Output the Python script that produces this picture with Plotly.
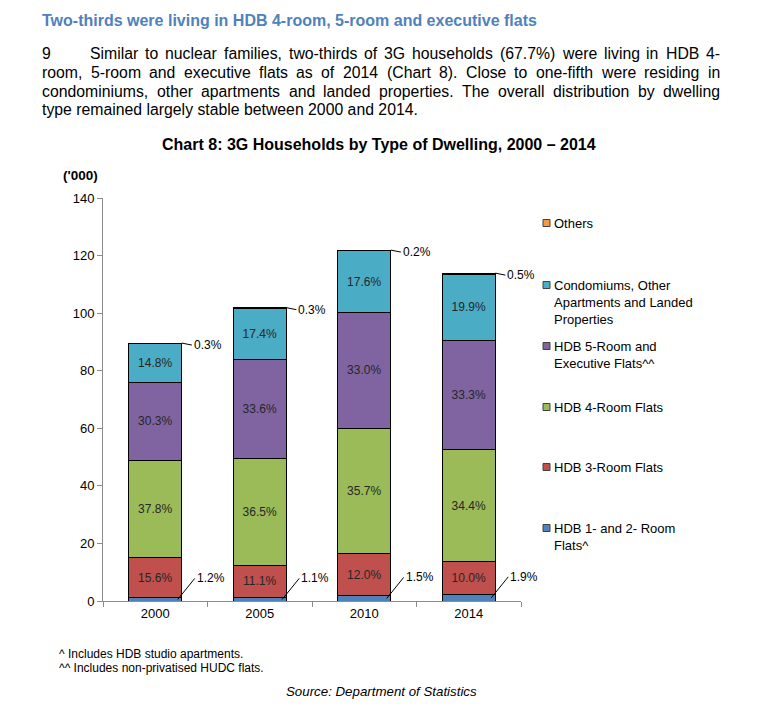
import plotly.graph_objects as go

# ---------------- data ----------------
years = ["2000", "2005", "2010", "2014"]
totals = [89.6, 101.9, 121.9, 113.9]

pct_hdb12 = [1.2, 1.1, 1.5, 1.9]
pct_hdb3 = [15.6, 11.1, 12.0, 10.0]
pct_hdb4 = [37.8, 36.5, 35.7, 34.4]
pct_hdb5 = [30.3, 33.6, 33.0, 33.3]
pct_condo = [14.8, 17.4, 17.6, 19.9]
pct_others = [0.3, 0.3, 0.2, 0.5]

series_names = [
    "HDB 1- and 2- Room Flats^",
    "HDB 3-Room Flats",
    "HDB 4-Room Flats",
    "HDB 5-Room and Executive Flats^^",
    "Condomiums, Other Apartments and Landed Properties",
    "Others",
]
series_pcts = [pct_hdb12, pct_hdb3, pct_hdb4, pct_hdb5, pct_condo, pct_others]
series_colors = ["#4F81BD", "#C0504D", "#9BBB59", "#8064A2", "#4BACC6", "#F79646"]
legend_labels = [
    "HDB 1- and 2- Room<br>Flats^",
    "HDB 3-Room Flats",
    "HDB 4-Room Flats",
    "HDB 5-Room and<br>Executive Flats^^",
    "Condomiums, Other<br>Apartments and Landed<br>Properties",
    "Others",
]

heading = "Two-thirds were living in HDB 4-room, 5-room and executive flats"
para_num = "9"
para_lines = [
    "Similar to nuclear families, two-thirds of 3G households (67.7%) were living in HDB 4-",
    "room, 5-room and executive flats as of 2014 (Chart 8). Close to one-fifth were residing in",
    "condominiums, other apartments and landed properties. The overall distribution by dwelling",
    "type remained largely stable between 2000 and 2014.",
]
chart_title = "Chart 8: 3G Households by Type of Dwelling, 2000 \u2013 2014"
unit_label = "('000)"
footnotes = ["^ Includes HDB studio apartments.", "^^ Includes non-privatised HUDC flats."]
source = "Source: Department of Statistics"

# ---------------- layout helpers ----------------
W, H = 761, 707
PL, PR, PT, PB = 103, 521, 198, 601  # plot area in pixels
FONT = "Liberation Sans, Arial, sans-serif"
BW = 0.51


def px(x):
    return (x - PL) / (PR - PL)


def py(y):
    return (PB - y) / (PB - PT)


# Arial / Liberation Sans advance widths (1/1000 em)
CW = {' ': 278, 'a': 556, 'b': 556, 'c': 500, 'd': 556, 'e': 556, 'f': 278, 'g': 556,
      'h': 556, 'i': 222, 'j': 222, 'k': 500, 'l': 222, 'm': 833, 'n': 556, 'o': 556,
      'p': 556, 'q': 556, 'r': 333, 's': 500, 't': 278, 'u': 556, 'v': 500, 'w': 722,
      'x': 500, 'y': 500, 'z': 500, '(': 333, ')': 333, '%': 889, '.': 278, ',': 278,
      '-': 333, 'A': 667, 'B': 667, 'C': 722, 'D': 722, 'E': 667, 'F': 611, 'G': 778,
      'H': 722, 'I': 278, 'J': 500, 'K': 667, 'L': 556, 'M': 833, 'N': 722, 'O': 778,
      'P': 667, 'Q': 778, 'R': 722, 'S': 667, 'T': 611, 'U': 722, 'V': 667, 'W': 944}


def tw(s, size):
    return sum(CW.get(c, 556) for c in s) / 1000.0 * size


fig = go.Figure()

for name, pcts, col in zip(series_names, series_pcts, series_colors):
    vals = [t * p / 100.0 for t, p in zip(totals, pcts)]
    small = pcts is pct_hdb12 or pcts is pct_others
    fig.add_trace(go.Bar(
        x=years, y=vals, name=name, width=BW,
        marker=dict(color=col, line=dict(color="#000000", width=1)),
        text=None if small else ["%.1f%%" % p for p in pcts],
        textposition="inside", insidetextanchor="middle", textangle=0,
        textfont=dict(family=FONT, size=12, color="#262626"),
        showlegend=False, hoverinfo="skip",
    ))

ann = []
# totals above bars
for y, t in zip(years, totals):
    ann.append(dict(x=y, y=t, xref="x", yref="y", text="<b>%.1f</b>" % t, showarrow=False,
                    yanchor="middle", yshift=16, font=dict(family=FONT, size=13, color="#000")))
# small-segment labels with leader lines
for i, (t, p) in enumerate(zip(totals, pct_hdb12)):
    v = t * p / 100.0
    ann.append(dict(x=i + BW / 2 - 0.04, y=v / 2, xref="x", yref="y", text="%.1f%%" % p,
                    showarrow=True, arrowhead=0, arrowwidth=1, arrowcolor="#000",
                    ax=17, ay=-21, xanchor="left", yanchor="middle", borderpad=1,
                    font=dict(family=FONT, size=12, color="#000")))
for i, (t, p) in enumerate(zip(totals, pct_others)):
    ann.append(dict(x=i + BW / 2, y=t, xref="x", yref="y", text="%.1f%%" % p,
                    showarrow=True, arrowhead=0, arrowwidth=1, arrowcolor="#000",
                    ax=10, ay=2, xanchor="left", yanchor="middle", borderpad=1,
                    font=dict(family=FONT, size=12, color="#000")))

# heading
ann.append(dict(x=px(41), y=py(20), xref="paper", yref="paper", text="<b>%s</b>" % heading,
                showarrow=False, xanchor="left", yanchor="middle", borderpad=0,
                font=dict(family=FONT, size=16, color="#4F81BD")))

# paragraph (justified)
PSIZE = 15.8
line_y = [54, 72.5, 91, 109]
ann.append(dict(x=px(41), y=py(line_y[0]), xref="paper", yref="paper", text=para_num,
                showarrow=False, xanchor="left", yanchor="middle", borderpad=0,
                font=dict(family=FONT, size=PSIZE, color="#000")))
for li, line in enumerate(para_lines):
    x0 = 89 if li == 0 else 41
    x1 = 719
    if li == len(para_lines) - 1:
        ann.append(dict(x=px(x0), y=py(line_y[li]), xref="paper", yref="paper", text=line,
                        showarrow=False, xanchor="left", yanchor="middle", borderpad=0,
                        font=dict(family=FONT, size=PSIZE, color="#000")))
        continue
    words = line.split(" ")
    widths = [tw(w, PSIZE) for w in words]
    gap = (x1 - x0 - sum(widths)) / (len(words) - 1)
    cx = x0
    for w, wd in zip(words, widths):
        ann.append(dict(x=px(cx), y=py(line_y[li]), xref="paper", yref="paper", text=w,
                        showarrow=False, xanchor="left", yanchor="middle", borderpad=0,
                        font=dict(family=FONT, size=PSIZE, color="#000")))
        cx += wd + gap

# chart title
ann.append(dict(x=px(378.5), y=py(144), xref="paper", yref="paper", text="<b>%s</b>" % chart_title,
                showarrow=False, xanchor="center", yanchor="middle", borderpad=0,
                font=dict(family=FONT, size=16, color="#000")))
# unit label
ann.append(dict(x=px(80), y=py(175), xref="paper", yref="paper", text="<b>%s</b>" % unit_label,
                showarrow=False, xanchor="center", yanchor="middle", borderpad=0,
                font=dict(family=FONT, size=13.5, color="#000")))

# legend (manual)
shapes = []
leg_y = [528, 467, 407, 346, 285, 223]
for lab, col, ly in zip(legend_labels, series_colors, leg_y):
    shapes.append(dict(type="rect", xref="paper", yref="paper",
                       x0=px(543), x1=px(550), y0=py(ly + 3.5), y1=py(ly - 3.5),
                       fillcolor=col, line=dict(color="#404040", width=1)))
    ann.append(dict(x=px(553), y=py(ly - 8.3), xref="paper", yref="paper", text=lab,
                    showarrow=False, xanchor="left", yanchor="top", align="left", borderpad=0,
                    font=dict(family=FONT, size=13, color="#000")))

# footnotes and source
for fy, ft in zip([654, 668], footnotes):
    ann.append(dict(x=px(58), y=py(fy), xref="paper", yref="paper", text=ft,
                    showarrow=False, xanchor="left", yanchor="middle", borderpad=0,
                    font=dict(family=FONT, size=12, color="#000")))
ann.append(dict(x=px(285), y=py(691), xref="paper", yref="paper", text="<i>%s</i>" % source,
                showarrow=False, xanchor="left", yanchor="middle", borderpad=0,
                font=dict(family=FONT, size=13.3, color="#000")))

fig.update_layout(
    width=W, height=H,
    margin=dict(l=PL, r=W - PR, t=PT, b=H - PB, pad=0),
    paper_bgcolor="white", plot_bgcolor="white",
    barmode="stack", bargap=0.49,
    showlegend=False,
    annotations=ann, shapes=shapes,
    font=dict(family=FONT, size=13, color="#000"),
    xaxis=dict(type="category", range=[-0.5, 3.5], showline=True, linecolor="#8C8C8C",
               linewidth=1, ticks="outside", tickson="boundaries", ticklen=5,
               tickcolor="#8C8C8C", showgrid=False, zeroline=False,
               tickfont=dict(family=FONT, size=13, color="#000")),
    yaxis=dict(range=[0, 140], dtick=20, tick0=0, showline=True, linecolor="#8C8C8C",
               linewidth=1, ticks="outside", ticklen=5, tickcolor="#8C8C8C",
               showgrid=False, zeroline=False,
               tickfont=dict(family=FONT, size=13, color="#000")),
)

fig.write_html("out.html", config={"displayModeBar": False},
               post_script="document.body.style.margin='0px';document.body.style.padding='0px';")
